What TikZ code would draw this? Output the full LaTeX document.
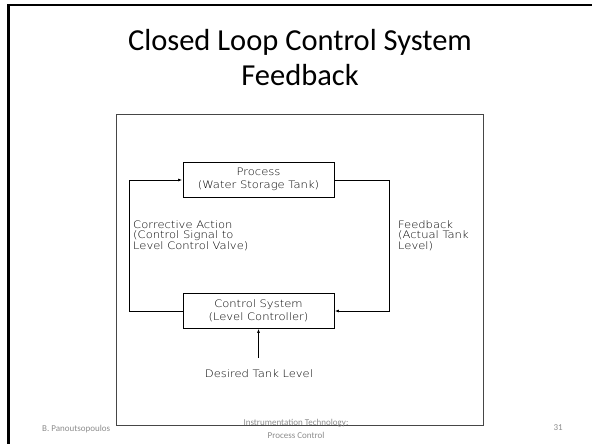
\documentclass[tikz,border=0pt]{standalone}
\usepackage{fontspec}
\setmainfont{Carlito}
\newfontfamily\cadfont[FakeStretch=1.12]{DejaVu Sans ExtraLight}
\usetikzlibrary{arrows.meta}
\definecolor{footgray}{RGB}{140,140,140}
\definecolor{framegray}{RGB}{70,70,70}
\begin{document}
\begin{tikzpicture}[x=1pt,y=-1pt,
  blockbox/.style={draw=black,line width=0.9pt,minimum width=151pt,minimum height=35pt,
    font=\cadfont\fontsize{10.3}{13}\selectfont,align=center,inner sep=0pt},
  lbl/.style={font=\cadfont\fontsize{10.3}{10.8}\selectfont,align=left,anchor=north west,inner sep=0pt},
  wire/.style={line width=0.9pt,draw=black},
  tip/.style={-{Latex[length=4.5pt,width=3pt]}},
  titletext/.style={font=\fontsize{30.5}{34}\selectfont,inner sep=0pt,anchor=base},
  foot/.style={font=\fontsize{9}{13}\selectfont,text=footgray,inner sep=0pt}]
\useasboundingbox (0,0) rectangle (592,444);
% slide frame (left and top edges)
\draw[line width=2.6pt,line cap=rect] (8.7,444) -- (8.7,5) -- (592,5);
% title, two lines
\node[titletext] (title) at (300,51) {Closed Loop Control System};
\node[titletext] (subtitle) at (300,85) {Feedback};
% inner drawing frame
\draw[draw=framegray,line width=1pt] (116,114) rectangle (483,425);
% blocks
\node[blockbox] (proc) at (258.5,179.5) {Process\\(Water Storage Tank)};
\node[blockbox] (ctrl) at (258.5,310.5) {Control System\\(Level Controller)};
% loop connectors
\coordinate (lt) at (129,180);
\coordinate (lb) at (129,311);
\coordinate (rt) at (389,180);
\coordinate (rb) at (389,311);
\draw[wire,tip] (ctrl.west |- lb) -- (lb) -- (lt) -- (proc.west |- lt);
\draw[wire,tip] (proc.east |- rt) -- (rt) -- (rb) -- (ctrl.east |- rb);
% setpoint input
\coordinate (sp) at (258.5,358);
\draw[wire,tip] (sp) -- (ctrl.south);
\node[font=\cadfont\fontsize{10.3}{10}\selectfont,inner sep=0pt] (desired) at (259,374) {Desired Tank Level};
% side labels
\node[lbl] (corr) at (133,220) {Corrective Action\\(Control Signal to\\Level Control Valve)};
\node[lbl] (fb) at (398,220) {Feedback\\(Actual Tank\\Level)};
% footer
\node[foot,anchor=base west] (author) at (42,431) {B. Panoutsopoulos};
\node[foot,align=center] (course) at (296,429) {Instrumentation Technology:\\Process Control};
\node[foot,anchor=base east] (page) at (563,430) {31};
\end{tikzpicture}
\end{document}
